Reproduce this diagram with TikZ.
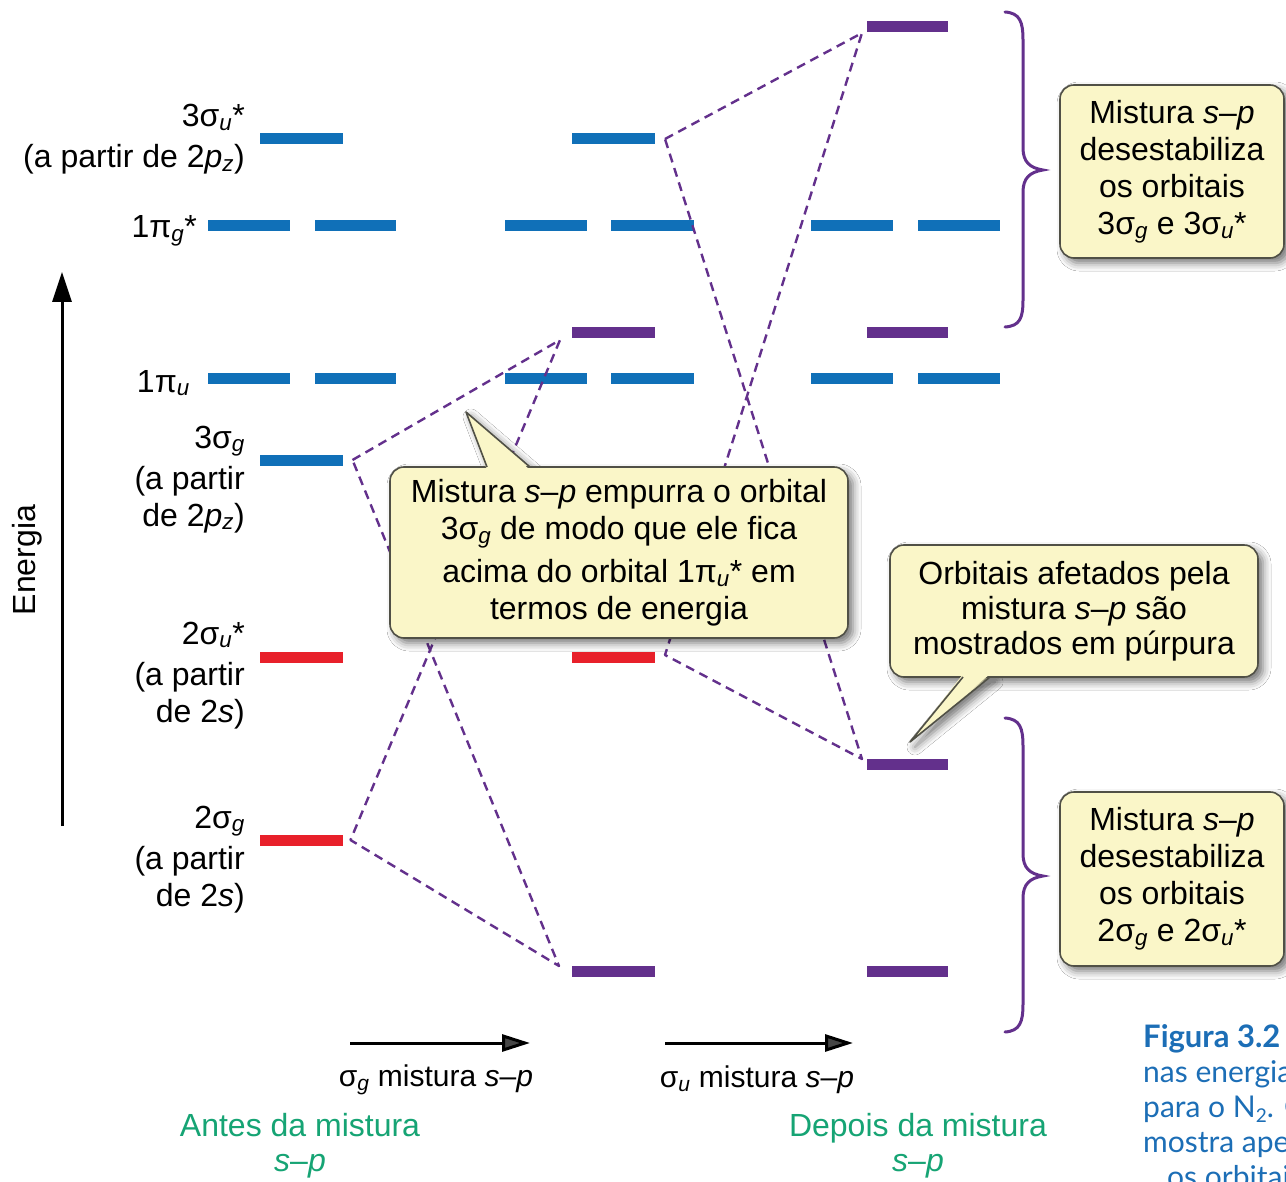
\documentclass[tikz,border=0pt]{standalone}
\usepackage{fontspec}
\setmainfont{Liberation Sans}
\newfontfamily\capfont{Lato}
\usetikzlibrary{arrows.meta,calc,shadows.blur}

\definecolor{mblue}{RGB}{16,112,184}
\definecolor{mred}{RGB}{232,32,42}
\definecolor{mpurple}{RGB}{99,48,140}
\definecolor{boxfill}{RGB}{250,246,200}
\definecolor{boxline}{RGB}{80,80,70}
\definecolor{mgreen}{RGB}{22,164,116}
\definecolor{capblue}{RGB}{28,110,182}

\newcommand\lsub[1]{\textsubscript{\itshape #1}}
\newcommand\sminusp{\textit{s}–\textit{p}}

\begin{document}
\begin{tikzpicture}[x=1pt,y=-1pt,
  level/.style={fill=#1, draw=none, minimum width=83pt, minimum height=11pt,
    inner sep=0pt, outer sep=0pt},
  mix/.style={mpurple, line width=2.4pt, dash pattern=on 9pt off 6pt, line join=round},
  lbl/.style={font=\fontsize{32}{37}\selectfont, align=right, inner sep=0pt},
  softshadow/.style={blur shadow={shadow xshift=5pt, shadow yshift=-5pt,
    shadow blur radius=8pt, shadow opacity=55}},
  callout/.style={fill=boxfill, draw=boxline, line width=1.6pt, rounded corners=14pt,
    inner sep=0pt, align=center, font=\fontsize{32}{37}\selectfont, softshadow},
  pointer/.style={draw=boxline, line width=1.6pt, line join=round},
  brace/.style={draw=mpurple, line width=3pt, line cap=round},
  axis/.style={line width=3pt, -{Triangle[length=30pt,width=19pt]}},
  mixarrow/.style={line width=3pt, -{Triangle[length=28pt,width=17pt]}},
  green/.style={mgreen, font=\fontsize{32}{35}\selectfont, align=center, inner sep=0pt},
  captext/.style={capblue, font=\capfont\fontsize{30}{35}\selectfont, inner sep=0pt, anchor=base west}
]
\useasboundingbox (0,0) rectangle (1286,1182);
\fill[white] (0,0) rectangle (1286,1182);

% ---------- energy levels: before mixing ----------
\node[level=mblue] (L3su) at (301,139) {};
\node[level=mblue, minimum width=82pt] (L1pga) at (248.5,226) {};
\node[level=mblue, minimum width=81pt] (L1pgb) at (355.5,226) {};
\node[level=mblue, minimum width=82pt] (L1pua) at (248.5,379) {};
\node[level=mblue, minimum width=81pt] (L1pub) at (355.5,379) {};
\node[level=mblue] (L3sg) at (301,460) {};
\node[level=mred] (L2su) at (301,657) {};
\node[level=mred] (L2sg) at (301,840) {};

% ---------- after sigma_g mixing ----------
\node[level=mblue] (M3su) at (613.5,139) {};
\node[level=mblue, minimum width=82pt] (M1pga) at (546,226) {};
\node[level=mblue] (M1pgb) at (652.5,226) {};
\node[level=mpurple] (M3sg) at (613.5,333) {};
\node[level=mblue, minimum width=82pt] (M1pua) at (546,379) {};
\node[level=mblue] (M1pub) at (652.5,379) {};
\node[level=mred] (M2su) at (613.5,657) {};
\node[level=mpurple] (M2sg) at (613.5,971) {};

% ---------- after sigma_u mixing ----------
\node[level=mpurple, minimum width=81pt] (R3su) at (907.5,27) {};
\node[level=mblue, minimum width=82pt] (R1pga) at (852,226) {};
\node[level=mblue, minimum width=82pt] (R1pgb) at (959,226) {};
\node[level=mpurple, minimum width=81pt] (R3sg) at (907.5,333) {};
\node[level=mblue, minimum width=82pt] (R1pua) at (852,379) {};
\node[level=mblue, minimum width=82pt] (R1pub) at (959,379) {};
\node[level=mpurple, minimum width=81pt] (R2su) at (907.5,764) {};
\node[level=mpurple, minimum width=81pt] (R2sg) at (907.5,971) {};

% ---------- correlation lines ----------
\coordinate (Lg3) at ($(L3sg.east)+(10,0)$);
\coordinate (Lg2) at ($(L2sg.east)+(8,0)$);
\coordinate (Mg3) at ($(M3sg.west)+(-12,7)$);
\coordinate (Mg2) at ($(M2sg.west)+(-13,-5)$);
\coordinate (Mu3) at ($(M3su.east)+(10,0)$);
\coordinate (Mu2) at ($(M2su.east)+(10,-2)$);
\coordinate (Ru3) at ($(R3su.west)+(-5,6)$);
\coordinate (Ru2) at ($(R2su.west)+(-5,-5)$);
\draw[mix] (Lg3) -- (Mg3) -- (Lg2) -- (Mg2) -- cycle;
\draw[mix] (Mu3) -- (Ru3) -- (Mu2) -- (Ru2) -- cycle;

% ---------- level labels ----------
\node[lbl, anchor=north east] (t3su) at (245,104)
  {3σ\lsub{u}*\hspace{8pt}\\[4pt](a partir de 2\textit{p}\lsub{z})};
\node[lbl, anchor=base east] (t1pg) at (197,237.5) {1π\lsub{g}*};
\node[lbl, anchor=base east] (t1pu) at (190,392) {1π\lsub{u}};
\node[lbl, anchor=north east] (t3sg) at (245,425.5)
  {3σ\lsub{g}\hspace{8pt}\\[4pt](a partir\\de 2\textit{p}\lsub{z})};
\node[lbl, anchor=north east] (t2su) at (245,621.5)
  {2σ\lsub{u}*\hspace{8pt}\\[4pt](a partir\\de 2\textit{s})};
\node[lbl, anchor=north east] (t2sg) at (245,805.5)
  {2σ\lsub{g}\hspace{8pt}\\[4pt](a partir\\de 2\textit{s})};

% ---------- energy axis ----------
\coordinate (ebot) at (62,826);
\coordinate (etop) at (62,272);
\draw[axis] (ebot) -- (etop);
\node[rotate=90, font=\fontsize{32}{37}\selectfont, inner sep=0pt] (elabel) at (27,560) {Energia};

% ---------- braces ----------
\draw[brace] (1005,12) .. controls (1020,13) and (1023,22) .. (1023,40)
  -- (1023,148) .. controls (1023,162) and (1030,168) .. (1043,170)
  .. controls (1030,172) and (1023,178) .. (1023,192)
  -- (1023,300) .. controls (1023,318) and (1020,326) .. (1005,327);
\draw[brace] (1005,718) .. controls (1020,719) and (1023,728) .. (1023,746)
  -- (1023,854) .. controls (1023,868) and (1030,874) .. (1043,876)
  .. controls (1030,878) and (1023,884) .. (1023,898)
  -- (1023,1004) .. controls (1023,1022) and (1020,1031) .. (1005,1032);

% ---------- callout: sigma_g mixing ----------
\coordinate (c1a) at (487,467);
\coordinate (c1b) at (530,467);
\coordinate (c1t) at (466,412);
\path[fill=boxfill, softshadow] (c1a) -- (c1t) -- (c1b) -- cycle;
\node[callout, minimum width=458pt, minimum height=171pt] (c1) at (619,552.5)
  {Mistura \sminusp{} empurra o orbital\\
   3σ\lsub{g} de modo que ele fica\\[6pt]
   acima do orbital 1π\lsub{u}* em\\
   termos de energia};
\fill[boxfill] ($(c1a)+(0,3)$) -- (c1t) -- ($(c1b)+(0,3)$) -- cycle;
\draw[pointer] (c1a) -- (c1t) -- (c1b);

% ---------- callout: purple orbitals ----------
\coordinate (c2a) at (963,677);
\coordinate (c2b) at (990,677);
\coordinate (c2t) at (910,742);
\path[fill=boxfill, softshadow] (c2a) -- (c2t) -- (c2b) -- cycle;
\node[callout, minimum width=368pt, minimum height=132pt, font=\fontsize{32}{35}\selectfont] (c2) at (1074,611)
  {Orbitais afetados pela\\
   mistura \sminusp{} são\\
   mostrados em púrpura};
\fill[boxfill] ($(c2a)+(0,-3)$) -- (c2t) -- ($(c2b)+(0,-3)$) -- cycle;
\draw[pointer] (c2a) -- (c2t) -- (c2b);

% ---------- side notes ----------
\node[callout, minimum width=224pt, minimum height=173pt] (c3) at (1172,171.5)
  {Mistura \sminusp\\ desestabiliza\\ os orbitais\\ 3σ\lsub{g} e 3σ\lsub{u}*};
\node[callout, minimum width=224pt, minimum height=174pt] (c4) at (1172,879)
  {Mistura \sminusp\\ desestabiliza\\ os orbitais\\ 2σ\lsub{g} e 2σ\lsub{u}*};

% ---------- mixing arrows ----------
\coordinate (ga) at (350,1043);
\coordinate (gb) at (530,1043);
\coordinate (ua) at (665,1043);
\coordinate (ub) at (853,1043);
\draw[mixarrow] (ga) -- (gb);
\draw[mixarrow] (ua) -- (ub);
\node[font=\fontsize{30}{36}\selectfont, inner sep=0pt] (gl) at (436,1080) {σ\lsub{g} mistura \sminusp};
\node[font=\fontsize{30}{36}\selectfont, inner sep=0pt] (ul) at (757,1080) {σ\lsub{u} mistura \sminusp};

% ---------- stage titles ----------
\node[green] (before) at (300,1146) {Antes da mistura\\ \sminusp};
\node[green] (after) at (918,1146) {Depois da mistura\\ \sminusp};

% ---------- caption (runs past the right edge) ----------
\begin{scope}
\clip (0,0) rectangle (1286,1182);
\node[captext, font=\capfont\bfseries\fontsize{31}{35}\selectfont] (cap1) at (1143,1047) {Figura 3.2};
\node[captext] (cap2) at (1143,1082) {nas energias};
\node[captext] (cap3) at (1143,1117) {para o N{\fontsize{19}{19}\selectfont\raisebox{-5pt}{2}}. O};
\node[captext] (cap4) at (1143,1152) {mostra apenas};
\node[captext] (cap5) at (1167,1187) {os orbitais};
\end{scope}
\end{tikzpicture}
\end{document}
